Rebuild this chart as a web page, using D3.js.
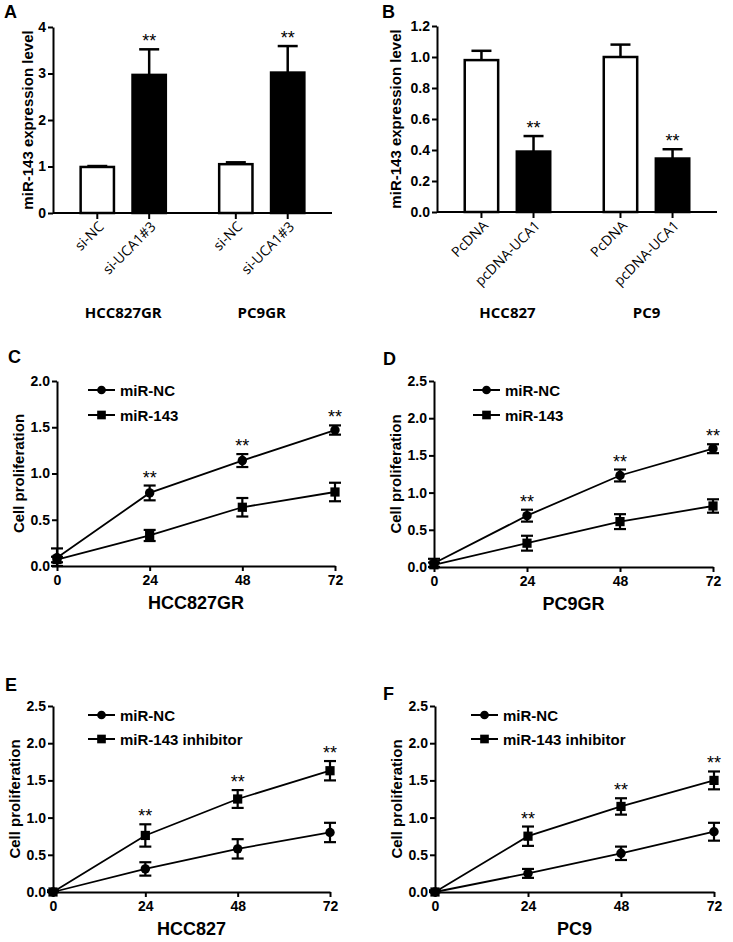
<!DOCTYPE html>
<html><head><meta charset="utf-8">
<script src="https://cdn.jsdelivr.net/npm/d3@7"></script>
<style>body{margin:0;background:#fff}svg{display:block}</style>
</head><body><svg id="c" width="733" height="942"></svg>
<script>
// ---------------- DATA ----------------
const groupsA = ["HCC827GR", "PC9GR"];
const condsA = ["si-NC", "si-UCA1#3"];
const valuesA = [[0.99, 2.97], [1.05, 3.02]];
const errorsA = [[0.02, 0.55], [0.04, 0.57]];
const sigA = [["", "**"], ["", "**"]];
const yTicksA = [0, 1, 2, 3, 4];

const groupsB = ["HCC827", "PC9"];
const condsB = ["PcDNA", "pcDNA-UCA1"];
const valuesB = [[0.98, 0.39], [1.00, 0.345]];
const errorsB = [[0.06, 0.10], [0.08, 0.06]];
const sigB = [["", "**"], ["", "**"]];
const yTicksB = [0, 0.2, 0.4, 0.6, 0.8, 1.0, 1.2];

const timePoints = [0, 24, 48, 72];
const sigTime = ["", "**", "**", "**"];
const yTicksC = [0, 0.5, 1.0, 1.5, 2.0];
const yTicksDEF = [0, 0.5, 1.0, 1.5, 2.0, 2.5];

const seriesCD = ["miR-NC", "miR-143"];
const seriesEF = ["miR-NC", "miR-143 inhibitor"];

const C_nc = [0.09, 0.79, 1.14, 1.47], C_ncErr = [0.10, 0.08, 0.07, 0.05];
const C_143 = [0.07, 0.33, 0.635, 0.80], C_143Err = [0.03, 0.06, 0.10, 0.10];
const D_nc = [0.05, 0.69, 1.23, 1.59], D_ncErr = [0.06, 0.08, 0.08, 0.06];
const D_143 = [0.03, 0.32, 0.61, 0.82], D_143Err = [0.03, 0.10, 0.10, 0.09];
const E_nc = [0, 0.31, 0.58, 0.80], E_ncErr = [0.02, 0.09, 0.13, 0.13];
const E_inh = [0, 0.76, 1.25, 1.63], E_inhErr = [0.02, 0.15, 0.12, 0.13];
const F_nc = [0, 0.25, 0.52, 0.81], F_ncErr = [0.02, 0.06, 0.09, 0.12];
const F_inh = [0, 0.75, 1.15, 1.50], F_inhErr = [0.02, 0.13, 0.11, 0.12];

// ---------------- DRAW ----------------
const svg = d3.select("#c");
svg.append("rect").attr("width", 733).attr("height", 942).attr("fill", "#fff");
const SANS = "'Liberation Sans', Arial, sans-serif";
const OPEN = "'Open Sans', 'Liberation Sans', sans-serif";

function panelLetter(t, x, y) {
  svg.append("text").attr("x", x).attr("y", y).text(t).attr("fill", "#000")
    .attr("font-family", SANS).attr("font-weight", "bold").attr("font-size", 18);
}

function yAxis(g, y, ticks, fmt) {
  const ax = g.call(d3.axisLeft(y).tickValues(ticks).tickFormat(d3.format(fmt)).tickSize(5).tickSizeOuter(0).tickPadding(2));
  ax.select(".domain").attr("stroke-width", 2);
  ax.selectAll(".tick line").attr("stroke-width", 2);
  ax.selectAll(".tick text").attr("font-family", SANS).attr("font-weight", "bold")
    .attr("font-size", 14).attr("fill", "#000");
  return ax;
}

function drawBar(cfg, groups, conds, values, errors, sig, ticks, fmt) {
  const g = svg.append("g");
  const y = d3.scaleLinear().domain([0, ticks[ticks.length - 1]]).range([cfg.yBot, cfg.yTop]);
  const outer = d3.scaleBand().domain(groups).range([cfg.x0, cfg.x1]).paddingInner(0).paddingOuter(0.007);
  const inner = d3.scaleBand().domain(conds).range([0, outer.bandwidth()]).paddingInner(0.31).paddingOuter(0.49);
  const data = [];
  groups.forEach((gr, i) => conds.forEach((c, j) => data.push({
    g: gr, c, j, v: values[i][j], e: errors[i][j], s: sig[i][j],
    cx: outer(gr) + inner(c) + inner.bandwidth() / 2
  })));
  const eb = g.append("g").attr("stroke", "#000").attr("stroke-width", 2.5);
  eb.selectAll(".ev").data(data).join("line")
    .attr("x1", d => d.cx).attr("x2", d => d.cx)
    .attr("y1", d => y(d.v)).attr("y2", d => y(d.v + d.e));
  eb.selectAll(".ec").data(data).join("line")
    .attr("x1", d => d.cx - 10).attr("x2", d => d.cx + 10)
    .attr("y1", d => y(d.v + d.e)).attr("y2", d => y(d.v + d.e));
  g.selectAll("rect.bar").data(data).join("rect").attr("class", "bar")
    .attr("x", d => d.cx - inner.bandwidth() / 2 + 1.25).attr("width", inner.bandwidth() - 2.5)
    .attr("y", d => y(d.v)).attr("height", d => cfg.yBot - y(d.v))
    .attr("fill", d => d.j === 0 ? "#fff" : "#000").attr("stroke", "#000").attr("stroke-width", 2.5);
  g.selectAll("text.star").data(data.filter(d => d.s)).join("text").attr("class", "star")
    .attr("x", d => d.cx).attr("y", d => y(d.v + d.e) - 2).attr("text-anchor", "middle").attr("fill", "#000")
    .attr("font-family", SANS).attr("font-size", 18).text(d => d.s);
  const ya = g.append("g").attr("transform", `translate(${cfg.x0},0)`);
  yAxis(ya, y, ticks, fmt);
  g.append("line").attr("x1", cfg.x0).attr("x2", cfg.x1).attr("y1", cfg.yBot).attr("y2", cfg.yBot)
    .attr("stroke", "#000").attr("stroke-width", 2);
  g.selectAll("line.xt").data(data).join("line").attr("class", "xt")
    .attr("x1", d => d.cx).attr("x2", d => d.cx).attr("y1", cfg.yBot).attr("y2", cfg.yBot + 6)
    .attr("stroke", "#000").attr("stroke-width", 2);
  g.selectAll("text.xl").data(data).join("text").attr("class", "xl")
    .attr("transform", d => `translate(${d.cx + 4},${cfg.yBot + 11}) rotate(-45)`)
    .attr("text-anchor", "end").attr("dy", "0.35em").attr("fill", "#000")
    .attr("font-family", OPEN).attr("font-size", 14).text(d => d.c);
  g.selectAll("text.gl").data(groups).join("text").attr("class", "gl")
    .attr("x", d => outer(d) + outer.bandwidth() / 2).attr("y", cfg.groupY)
    .attr("text-anchor", "middle").attr("dominant-baseline", "central").attr("fill", "#000")
    .attr("font-family", OPEN).attr("font-weight", "bold").attr("font-size", 15).text(d => d);
  g.append("text").attr("transform", `translate(${cfg.x0 - cfg.titleOff},${(cfg.yTop + cfg.yBot) / 2}) rotate(-90)`)
    .attr("text-anchor", "middle").attr("dominant-baseline", "central").attr("fill", "#000")
    .attr("font-family", SANS).attr("font-weight", "bold").attr("font-size", 15)
    .text("miR-143 expression level");
}

function drawLine(cfg, ticks, names, series, xTitle) {
  const g = svg.append("g");
  const x = d3.scaleLinear().domain([0, 72]).range([cfg.x0, cfg.x1]);
  const y = d3.scaleLinear().domain([0, ticks[ticks.length - 1]]).range([cfg.yBot, cfg.yTop]);
  const line = d3.line().x((d, i) => x(timePoints[i])).y(d => y(d));
  series.forEach(s => {
    g.append("path").datum(s.v).attr("d", line).attr("fill", "none")
      .attr("stroke", "#000").attr("stroke-width", 1.8);
    const pts = s.v.map((v, i) => ({ t: timePoints[i], v, e: s.e[i] }));
    const eg = g.append("g").attr("stroke", "#000").attr("stroke-width", 2.2);
    eg.selectAll(".v").data(pts).join("line").attr("x1", d => x(d.t)).attr("x2", d => x(d.t))
      .attr("y1", d => y(Math.max(0, d.v - d.e))).attr("y2", d => y(d.v + d.e));
    eg.selectAll(".t").data(pts).join("line").attr("x1", d => x(d.t) - 6).attr("x2", d => x(d.t) + 6)
      .attr("y1", d => y(d.v + d.e)).attr("y2", d => y(d.v + d.e));
    eg.selectAll(".b").data(pts).join("line").attr("x1", d => x(d.t) - 6).attr("x2", d => x(d.t) + 6)
      .attr("y1", d => y(Math.max(0, d.v - d.e))).attr("y2", d => y(Math.max(0, d.v - d.e)));
    const sym = d3.symbol().type(s.shape === "circle" ? d3.symbolCircle : d3.symbolSquare)
      .size(s.shape === "circle" ? 70 : 85);
    g.selectAll(".m").data(pts).join("path").attr("d", sym)
      .attr("transform", d => `translate(${x(d.t)},${y(d.v)})`).attr("fill", "#000");
  });
  const tops = timePoints.map((t, i) => d3.max(series, s => s.v[i] + s.e[i]));
  g.selectAll("text.star").data(timePoints.map((t, i) => ({ t, s: sigTime[i], top: tops[i] })).filter(d => d.s))
    .join("text").attr("class", "star").attr("x", d => x(d.t)).attr("y", d => y(d.top) - 2).attr("fill", "#000")
    .attr("text-anchor", "middle").attr("font-family", SANS).attr("font-size", 18).text(d => d.s);
  const ya = g.append("g").attr("transform", `translate(${cfg.x0},0)`);
  yAxis(ya, y, ticks, ".1f");
  const xa = g.append("g").attr("transform", `translate(0,${cfg.yBot})`)
    .call(d3.axisBottom(x).tickValues(timePoints).tickFormat(d3.format("d")).tickSize(5).tickSizeOuter(0).tickPadding(4));
  xa.select(".domain").attr("stroke-width", 2);
  xa.selectAll(".tick line").attr("stroke-width", 2);
  xa.selectAll(".tick text").attr("font-family", SANS).attr("font-weight", "bold").attr("font-size", 14).attr("fill", "#000");
  g.append("text").attr("x", (cfg.x0 + cfg.x1) / 2).attr("y", cfg.yBot + 37).attr("fill", "#000")
    .attr("text-anchor", "middle").attr("dominant-baseline", "central")
    .attr("font-family", SANS).attr("font-weight", "bold").attr("font-size", 18).text(xTitle);
  g.append("text").attr("transform", `translate(${cfg.x0 - 39},${(cfg.yTop + cfg.yBot) / 2}) rotate(-90)`)
    .attr("text-anchor", "middle").attr("dominant-baseline", "central").attr("fill", "#000")
    .attr("font-family", SANS).attr("font-weight", "bold").attr("font-size", 15).text("Cell proliferation");
  names.forEach((n, i) => {
    const ly = cfg.yTop + cfg.legY[i];
    const lx = cfg.x0 + cfg.legX;
    g.append("line").attr("x1", lx).attr("x2", lx + 27).attr("y1", ly).attr("y2", ly)
      .attr("stroke", "#000").attr("stroke-width", 2);
    const sh = series.find(s => s.name === n).shape;
    g.append("path").attr("d", d3.symbol().type(sh === "circle" ? d3.symbolCircle : d3.symbolSquare).size(sh === "circle" ? 60 : 75))
      .attr("transform", `translate(${lx + 13.5},${ly})`).attr("fill", "#000");
    g.append("text").attr("x", lx + 32).attr("y", ly).attr("dominant-baseline", "central").attr("fill", "#000")
      .attr("font-family", SANS).attr("font-weight", "bold").attr("font-size", 15).text(n);
  });
}

panelLetter("A", 4, 18);
panelLetter("B", 382, 18);
panelLetter("C", 8, 363);
panelLetter("D", 383, 365);
panelLetter("E", 5, 691);
panelLetter("F", 383, 700);

drawBar({ x0: 53, x1: 332, yTop: 27, yBot: 213, groupY: 312, titleOff: 26 }, groupsA, condsA, valuesA, errorsA, sigA, yTicksA, "d");
drawBar({ x0: 437, x1: 717, yTop: 26, yBot: 212, groupY: 312, titleOff: 42 }, groupsB, condsB, valuesB, errorsB, sigB, yTicksB, ".1f");

drawLine({ x0: 57, x1: 335, yTop: 381, yBot: 566, legX: 31, legY: [9, 34] }, yTicksC, seriesCD,
  [{ name: "miR-NC", shape: "circle", v: C_nc, e: C_ncErr }, { name: "miR-143", shape: "square", v: C_143, e: C_143Err }], "HCC827GR");
drawLine({ x0: 434, x1: 713, yTop: 381, yBot: 567, legX: 39, legY: [9, 34] }, yTicksDEF, seriesCD,
  [{ name: "miR-NC", shape: "circle", v: D_nc, e: D_ncErr }, { name: "miR-143", shape: "square", v: D_143, e: D_143Err }], "PC9GR");
drawLine({ x0: 53, x1: 330, yTop: 706, yBot: 892, legX: 35, legY: [9, 33] }, yTicksDEF, seriesEF,
  [{ name: "miR-NC", shape: "circle", v: E_nc, e: E_ncErr }, { name: "miR-143 inhibitor", shape: "square", v: E_inh, e: E_inhErr }], "HCC827");
drawLine({ x0: 435, x1: 714, yTop: 706, yBot: 892, legX: 36, legY: [9, 33] }, yTicksDEF, seriesEF,
  [{ name: "miR-NC", shape: "circle", v: F_nc, e: F_ncErr }, { name: "miR-143 inhibitor", shape: "square", v: F_inh, e: F_inhErr }], "PC9");
</script></body></html>
